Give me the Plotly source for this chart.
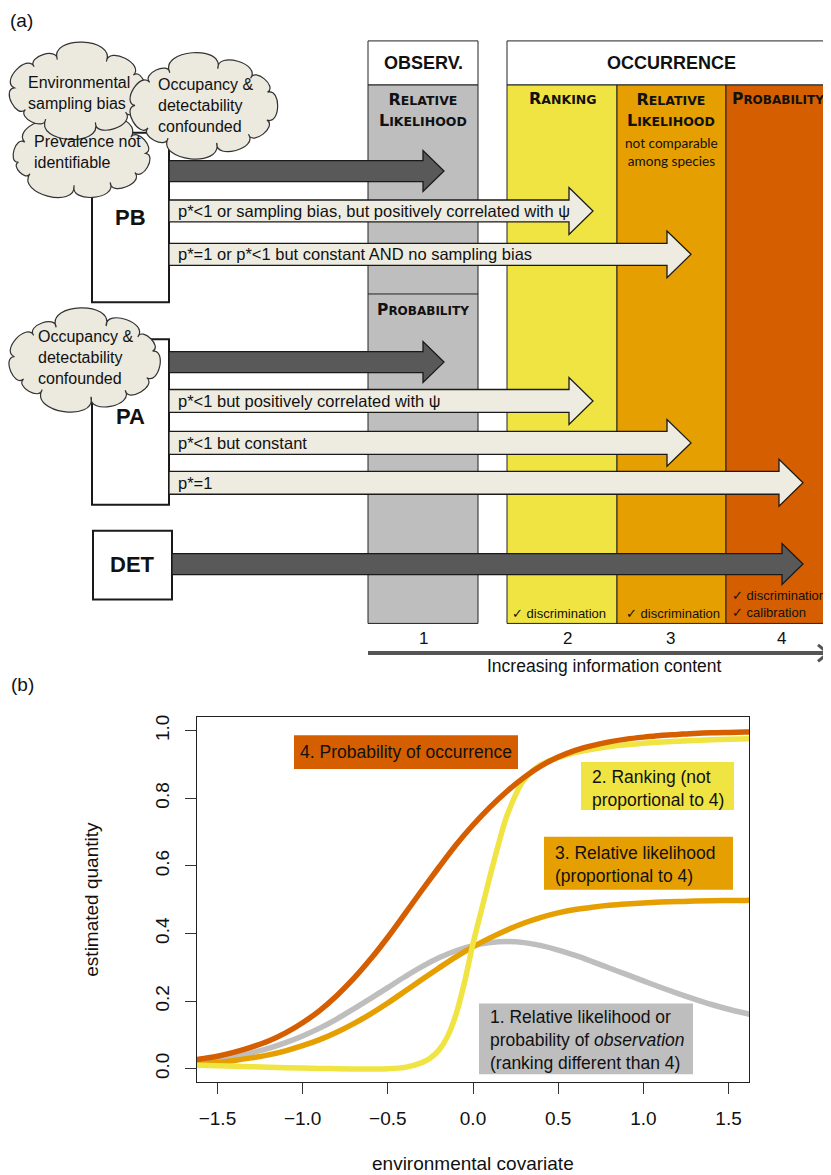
import numpy as np
import plotly.graph_objects as go

W, H = 831, 1175          # target page size (px)
OFF = 8                   # page body margin in the viewer
FW, FH = W - OFF, H - OFF # figure size so that it ends exactly at the window edge
ARIAL = "Liberation Sans, Arial, Helvetica, sans-serif"
DEJAVU = "DejaVu Sans, Verdana, sans-serif"
LATO = "Lato, Carlito, Calibri, sans-serif"

# ---------------- Panel (b) data ----------------
cov_x = [-1.7, -1.6, -1.5, -1.4, -1.3, -1.2, -1.1, -1.0, -0.9, -0.8, -0.7, -0.6,
         -0.5, -0.4, -0.3, -0.2, -0.1, 0.0, 0.1, 0.2, 0.3, 0.4, 0.5, 0.6, 0.7,
         0.8, 0.9, 1.0, 1.1, 1.2, 1.3, 1.4, 1.5, 1.6, 1.7]
prob_occurrence = [0.022, 0.029, 0.037, 0.049, 0.064, 0.082, 0.106, 0.136, 0.172,
                   0.216, 0.267, 0.325, 0.389, 0.458, 0.528, 0.596, 0.662, 0.721,
                   0.774, 0.821, 0.862, 0.896, 0.922, 0.942, 0.956, 0.967, 0.975,
                   0.981, 0.986, 0.989, 0.992, 0.994, 0.995, 0.996, 0.997]
rel_likelihood = [0.011, 0.0145, 0.0185, 0.0245, 0.032, 0.041, 0.053, 0.068, 0.086,
                  0.108, 0.1335, 0.1625, 0.1945, 0.229, 0.264, 0.298, 0.331, 0.3605,
                  0.387, 0.4105, 0.431, 0.448, 0.461, 0.471, 0.478, 0.4835, 0.4875,
                  0.4905, 0.493, 0.4945, 0.496, 0.497, 0.4975, 0.498, 0.4985]
observation = [0.014, 0.02, 0.027, 0.036, 0.047, 0.06, 0.077, 0.097, 0.12, 0.147,
               0.177, 0.208, 0.24, 0.272, 0.302, 0.328, 0.349, 0.364, 0.373, 0.376,
               0.373, 0.364, 0.351, 0.335, 0.317, 0.298, 0.279, 0.26, 0.241, 0.223,
               0.206, 0.19, 0.176, 0.164, 0.152]
rank_x = [-1.7, -1.5, -1.3, -1.1, -0.9, -0.7, -0.5, -0.4, -0.3, -0.25, -0.2, -0.15,
          -0.1, -0.05, 0.0, 0.05, 0.1, 0.15, 0.2, 0.3, 0.4, 0.5, 0.6, 0.8, 1.0,
          1.2, 1.4, 1.7]
ranking = [0.011, 0.009, 0.006, 0.003, 0.001, -0.001, 0.0, 0.004, 0.018, 0.032,
           0.055, 0.095, 0.16, 0.255, 0.37, 0.47, 0.57, 0.665, 0.75, 0.855, 0.9,
           0.92, 0.935, 0.953, 0.963, 0.969, 0.973, 0.977]

x_ticks = [-1.5, -1.0, -0.5, 0.0, 0.5, 1.0, 1.5]
x_ticklabels = ["\u22121.5", "\u22121.0", "\u22120.5", "0.0", "0.5", "1.0", "1.5"]
y_ticks = [0.0, 0.2, 0.4, 0.6, 0.8, 1.0]
y_ticklabels = ["0.0", "0.2", "0.4", "0.6", "0.8", "1.0"]

C_GRAY, C_YEL, C_ORA, C_RED = "#BEBEBE", "#F0E442", "#E69F00", "#D55E00"

# ---------------- Panel (a) data ----------------
level_numbers = ["1", "2", "3", "4"]
pb_arrow_labels = ["", "p*&lt;1 or sampling bias, but positively correlated with \u03c8",
                   "p*=1 or p*&lt;1 but constant AND no sampling bias"]
pb_arrow_levels = [1, 2, 3]
pa_arrow_labels = ["", "p*&lt;1 but positively correlated with \u03c8",
                   "p*&lt;1 but constant", "p*=1"]
pa_arrow_levels = [1, 2, 3, 4]
det_arrow_levels = [4]
pb_clouds = ["Environmental<br>sampling bias", "Occupancy &amp;<br>detectability<br>confounded",
             "Prevalence not<br>identifiable"]
pa_clouds = ["Occupancy &amp;<br>detectability<br>confounded"]

# ---------------- geometry (layout, page px) ----------------
COL_X = [(368, 478), (507, 617), (617, 726), (726, 830)]
COL_FILL = [C_GRAY, C_YEL, C_ORA, C_RED]
TIP_X = {1: 444, 2: 593, 3: 691, 4: 803}
HEAD_TOP, HEAD_BOT, COL_BOT = 38, 82, 622

fig = go.Figure()

# invisible canvas axes for the diagram (page pixel units)
fig.add_trace(go.Scatter(x=[OFF + 1], y=[OFF + 1], xaxis="x2", yaxis="y2", mode="markers",
                         marker=dict(opacity=0), showlegend=False, hoverinfo="skip"))


def rect(x0, y0, x1, y1, fill, line="#222", lw=1.0):
    fig.add_shape(type="rect", xref="x2", yref="y2", x0=x0, y0=y0, x1=x1, y1=y1,
                  fillcolor=fill, line=dict(color=line, width=lw), layer="above")


def seg(x0, y0, x1, y1, color="#222", lw=1.0):
    fig.add_shape(type="line", xref="x2", yref="y2", x0=x0, y0=y0, x1=x1, y1=y1,
                  line=dict(color=color, width=lw), layer="above")


def path(d, fill, line="#222", lw=1.0):
    fig.add_shape(type="path", xref="x2", yref="y2", path=d, fillcolor=fill,
                  line=dict(color=line, width=lw), layer="above")


def txt(x, y, s, size=16, family=ARIAL, color="#111", xanchor="center",
        align="center", angle=0):
    fig.add_annotation(x=x, y=y, xref="x2", yref="y2", text=s, showarrow=False,
                       font=dict(family=family, size=size, color=color),
                       xanchor=xanchor, yanchor="middle", align=align,
                       textangle=angle, borderpad=0)


def arrow(x0, x1, yc, h, hh, hl, fill):
    xh = x1 - hl
    pts = [(x0, yc - h / 2), (xh, yc - h / 2), (xh, yc - hh / 2), (x1, yc),
           (xh, yc + hh / 2), (xh, yc + h / 2), (x0, yc + h / 2)]
    d = "M " + " L ".join(f"{a:.1f},{b:.1f}" for a, b in pts) + " Z"
    path(d, fill, "#1a1a1a", 1.3)


def cloud(cx, cy, rx, ry, n, phase=0.2, bulge=0.5):
    ts = [phase + 2 * np.pi * (k + 0.18 * np.sin(2.3 * k + 1)) / n for k in range(n)]
    pts = [np.array([cx + rx * np.cos(t), cy + ry * np.sin(t)]) for t in ts]
    d = f"M {pts[0][0]:.1f},{pts[0][1]:.1f}"
    for k in range(n):
        p = pts[k]
        q = pts[(k + 1) % n]
        t1 = ts[k + 1] if k + 1 < n else ts[0] + 2 * np.pi
        tm = (ts[k] + t1) / 2
        nv = np.array([np.cos(tm) * ry, np.sin(tm) * rx])
        nv = nv / np.hypot(*nv)
        chord = np.hypot(*(q - p))
        tv = (q - p) / chord
        b = bulge * chord
        c1 = p + nv * b - tv * 0.18 * chord
        c2 = q + nv * b + tv * 0.18 * chord
        d += f" C {c1[0]:.1f},{c1[1]:.1f} {c2[0]:.1f},{c2[1]:.1f} {q[0]:.1f},{q[1]:.1f}"
    d += " Z"
    path(d, "#ECE9DF", "#333", 1.2)


def small_caps(word, small):
    return f"{word[0]}<span style='font-size:{small}px'>{word[1:]}</span>"


# ---- columns ----
for (x0, x1), fc in zip(COL_X, COL_FILL):
    rect(x0, HEAD_BOT, x1, COL_BOT, fc, "#222", 1)
rect(368, HEAD_TOP, 478, HEAD_BOT, "white", "#222", 1)
rect(507, HEAD_TOP, 830, HEAD_BOT, "white", "#222", 1)
seg(368, 291.7, 478, 291.7, "#222", 1)

txt(423, 60, "<b>OBSERV.</b>", 18)
txt(671, 60, "<b>OCCURRENCE</b>", 18)
txt(423, 107, "<b>" + small_caps("RELATIVE", 12.5) + "<br>" + small_caps("LIKELIHOOD", 12.5) + "</b>", 16, DEJAVU)
txt(423, 308, "<b>" + small_caps("PROBABILITY", 12) + "</b>", 15.5, DEJAVU)
txt(563, 96, "<b>" + small_caps("RANKING", 12.5) + "</b>", 16, DEJAVU)
txt(671, 107, "<b>" + small_caps("RELATIVE", 12.5) + "<br>" + small_caps("LIKELIHOOD", 12.5) + "</b>", 16, DEJAVU)
txt(671, 149, "not comparable<br>among species", 13.6, LATO)
txt(778, 96, "<b>" + small_caps("PROBABILITY", 12) + "</b>", 15.5, DEJAVU)

CHK = "\u2713 "
txt(511, 611.7, CHK + "discrimination", 13, ARIAL, xanchor="left")
txt(625, 611.7, CHK + "discrimination", 13, ARIAL, xanchor="left")
txt(731, 603, CHK + "discrimination<br>" + CHK + "calibration", 13, ARIAL,
    xanchor="left", align="left")

# level numbers and information arrow
for lab, cx in zip(level_numbers, [423, 567, 670, 781]):
    txt(cx, 637, lab, 17)
seg(368, 651.7, 826, 651.7, "#555", 4)
path("M 818,643.5 L 828,651.7 L 818,660", "rgba(0,0,0,0)", "#555", 3)
txt(604, 665, "Increasing information content", 17.5)

# ---- PB / PA / DET boxes ----
rect(92, 130, 169, 300, "white", "#1a1a1a", 2)
rect(92, 337, 169, 503, "white", "#1a1a1a", 2)
rect(93, 529, 172, 598, "white", "#1a1a1a", 2)
txt(130, 215, "<b>PB</b>", 22)
txt(130, 415, "<b>PA</b>", 22)
txt(132.5, 563, "<b>DET</b>", 22)

# ---- arrows ----
DARK, LIGHT = "#595959", "#EEECE1"
pb_y = [168.5, 208.5, 252]
for lab, lev, yc in zip(pb_arrow_labels, pb_arrow_levels, pb_y):
    if lab == "":
        arrow(169, TIP_X[lev], yc, 21, 41, 21, DARK)
    else:
        arrow(169, TIP_X[lev], yc, 22, 47, 24, LIGHT)
        txt(177, yc, lab, 16.5, xanchor="left")
pa_y = [360, 399, 441, 481]
for lab, lev, yc in zip(pa_arrow_labels, pa_arrow_levels, pa_y):
    if lab == "":
        arrow(169, TIP_X[lev], yc, 21, 41, 21, DARK)
    else:
        arrow(169, TIP_X[lev], yc, 23, 47, 24, LIGHT)
        txt(177, yc, lab, 16.5, xanchor="left")
for lev in det_arrow_levels:
    arrow(172, TIP_X[lev], 562.5, 21, 41, 21, DARK)

# ---- clouds ----
cloud(81.5, 153.5, 64.5, 29.5, 10, phase=0.5)
cloud(77.5, 88, 63.5, 33, 10, phase=0.1)
cloud(203.5, 103, 68.5, 38, 11, phase=0.3)
cloud(84.5, 358.5, 70.5, 36.5, 11, phase=0.4)
txt(27, 90, pb_clouds[0], 16, xanchor="left", align="left")
txt(157, 103, pb_clouds[1], 16, xanchor="left", align="left")
txt(33, 149.5, pb_clouds[2], 16, xanchor="left", align="left")
txt(37, 355, pa_clouds[0], 16, xanchor="left", align="left")

txt(9, 18, "(a)", 19, xanchor="left")
txt(10, 683, "(b)", 19, xanchor="left")

# ---------------- Panel (b) ----------------
fig.add_trace(go.Scatter(x=cov_x, y=observation, mode="lines",
                         line=dict(color=C_GRAY, width=5.5, shape="spline"),
                         showlegend=False, hoverinfo="skip"))
fig.add_trace(go.Scatter(x=cov_x, y=rel_likelihood, mode="lines",
                         line=dict(color=C_ORA, width=5.5, shape="spline"),
                         showlegend=False, hoverinfo="skip"))
fig.add_trace(go.Scatter(x=rank_x, y=ranking, mode="lines",
                         line=dict(color=C_YEL, width=5.5, shape="spline", smoothing=0.8),
                         showlegend=False, hoverinfo="skip"))
fig.add_trace(go.Scatter(x=cov_x, y=prob_occurrence, mode="lines",
                         line=dict(color=C_RED, width=5.5, shape="spline"),
                         showlegend=False, hoverinfo="skip"))

# label boxes (page pixel layout)
rect(294, 734, 518, 768, C_RED, C_RED, 0)
rect(581, 761, 734, 809, C_YEL, C_YEL, 0)
rect(544, 836, 733, 889, C_ORA, C_ORA, 0)
rect(479, 1003, 693, 1074, C_GRAY, C_GRAY, 0)
txt(299, 751, "4. Probability of occurrence", 17.5, xanchor="left", align="left")
txt(591, 787, "2. Ranking (not<br>proportional to 4)", 17.5, xanchor="left", align="left")
txt(554, 864, "3. Relative likelihood<br>(proportional to 4)", 17.5, xanchor="left", align="left")
txt(489, 1040, "1. Relative likelihood or<br>probability of <i>observation</i><br>(ranking different than 4)",
    17.5, xanchor="left", align="left")

# axis titles
txt(473, 1163, "environmental covariate", 19)
txt(92, 899, "estimated quantity", 19, angle=-90)


def dx(px):
    return (px - OFF) / FW


def dy(py):
    return 1 - (py - OFF) / FH


fig.update_layout(
    width=FW, height=FH, margin=dict(l=0, r=0, t=0, b=0),
    paper_bgcolor="white", plot_bgcolor="rgba(0,0,0,0)", showlegend=False,
    font=dict(family=ARIAL, color="#111"),
    xaxis=dict(domain=[dx(197), dx(749)], range=[-1.62, 1.62], tickvals=x_ticks,
               ticktext=x_ticklabels, ticks="outside", ticklen=11, tickwidth=1,
               tickcolor="#333", showline=True, linecolor="#222", linewidth=1.2,
               mirror=True, showgrid=False, zeroline=False, anchor="y",
               tickfont=dict(size=19, color="#111"), ticklabelstandoff=8),
    yaxis=dict(domain=[dy(1082), dy(716)], range=[-0.04, 1.04],
               tickvals=y_ticks, ticktext=y_ticklabels, ticks="outside", ticklen=11,
               tickwidth=1, tickcolor="#333", showline=True, linecolor="#222",
               linewidth=1.2, mirror=True, showgrid=False, zeroline=False,
               anchor="x", tickangle=-90, tickfont=dict(size=19, color="#111"),
               ticklabelstandoff=8),
    xaxis2=dict(domain=[0, 1], range=[OFF, W], visible=False, anchor="y2", fixedrange=True),
    yaxis2=dict(domain=[0, 1], range=[H, OFF], visible=False, anchor="x2", fixedrange=True),
)

fig.write_html("out.html")
